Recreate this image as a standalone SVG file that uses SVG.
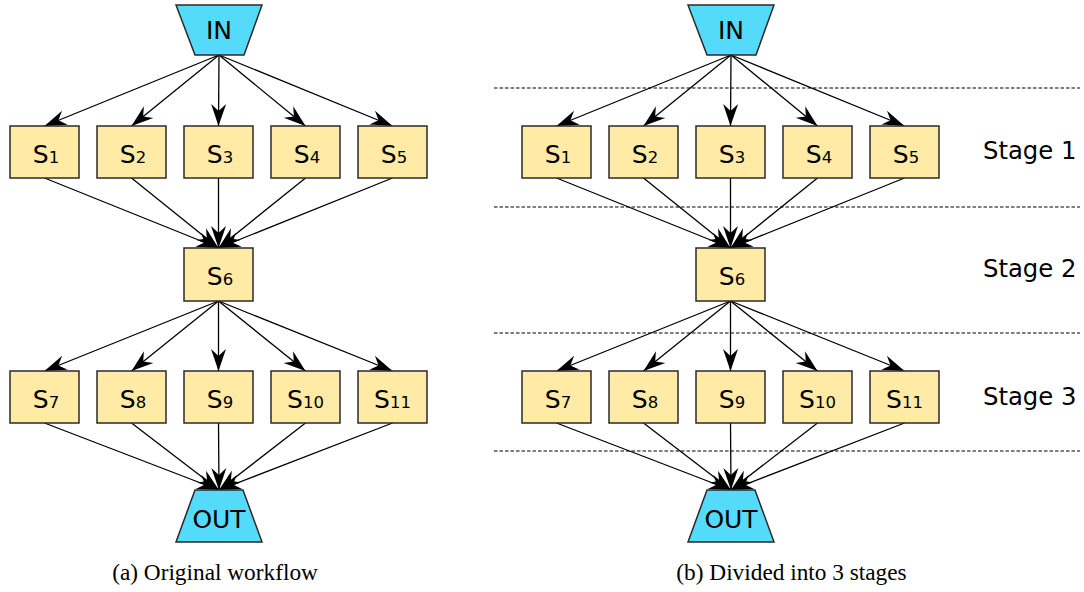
<svg xmlns="http://www.w3.org/2000/svg" width="1084" height="592" viewBox="0 0 1084 592">
<style>
.box{fill:#ffeaa6;stroke:#2a2a2a;stroke-width:1.5}
.io{fill:#55dbfa;stroke:#2a2a2a;stroke-width:1.5}
.lbl{font-family:"DejaVu Sans",sans-serif;font-size:25px;fill:#000;text-anchor:middle}
.sub{font-size:16.5px}
.edge{stroke:#000;stroke-width:1.3;fill:none;marker-end:url(#stealth)}
.dash{stroke:#000;stroke-width:1.2;stroke-dasharray:3.5 2}
.stage{font-family:"DejaVu Sans",sans-serif;font-size:24.3px;fill:#000}
.cap{font-family:"Liberation Serif",serif;font-size:23.3px;fill:#000;text-anchor:middle}
</style>
<defs>
<marker id="stealth" markerUnits="userSpaceOnUse" markerWidth="24" markerHeight="18" refX="22" refY="9" orient="auto" viewBox="0 0 24 18">
<path d="M0,1.5 L22,9 L0,16.5 L7,9 Z" fill="#000"/>
</marker>
</defs>
<rect width="1084" height="592" fill="#fff"/>
<g id="connectors">
<line class="edge" x1="219" y1="55" x2="44.5" y2="126"/>
<line class="edge" x1="219" y1="55" x2="131.5" y2="126"/>
<line class="edge" x1="219" y1="55" x2="218.5" y2="126"/>
<line class="edge" x1="219" y1="55" x2="305.5" y2="126"/>
<line class="edge" x1="219" y1="55" x2="392.5" y2="126"/>
<line class="edge" x1="44.5" y1="178" x2="218.5" y2="248"/>
<line class="edge" x1="131.5" y1="178" x2="218.5" y2="248"/>
<line class="edge" x1="218.5" y1="178" x2="218.5" y2="248"/>
<line class="edge" x1="305.5" y1="178" x2="218.5" y2="248"/>
<line class="edge" x1="392.5" y1="178" x2="218.5" y2="248"/>
<line class="edge" x1="218.5" y1="301" x2="44.5" y2="371"/>
<line class="edge" x1="218.5" y1="301" x2="131.5" y2="371"/>
<line class="edge" x1="218.5" y1="301" x2="218.5" y2="371"/>
<line class="edge" x1="218.5" y1="301" x2="305.5" y2="371"/>
<line class="edge" x1="218.5" y1="301" x2="392.5" y2="371"/>
<line class="edge" x1="44.5" y1="423" x2="219" y2="490"/>
<line class="edge" x1="131.5" y1="423" x2="219" y2="490"/>
<line class="edge" x1="218.5" y1="423" x2="219" y2="490"/>
<line class="edge" x1="305.5" y1="423" x2="219" y2="490"/>
<line class="edge" x1="392.5" y1="423" x2="219" y2="490"/>

<line class="edge" x1="731" y1="55" x2="556.5" y2="126"/>
<line class="edge" x1="731" y1="55" x2="643.5" y2="126"/>
<line class="edge" x1="731" y1="55" x2="730.5" y2="126"/>
<line class="edge" x1="731" y1="55" x2="817.5" y2="126"/>
<line class="edge" x1="731" y1="55" x2="904.5" y2="126"/>
<line class="edge" x1="556.5" y1="178" x2="730.5" y2="248"/>
<line class="edge" x1="643.5" y1="178" x2="730.5" y2="248"/>
<line class="edge" x1="730.5" y1="178" x2="730.5" y2="248"/>
<line class="edge" x1="817.5" y1="178" x2="730.5" y2="248"/>
<line class="edge" x1="904.5" y1="178" x2="730.5" y2="248"/>
<line class="edge" x1="730.5" y1="301" x2="556.5" y2="371"/>
<line class="edge" x1="730.5" y1="301" x2="643.5" y2="371"/>
<line class="edge" x1="730.5" y1="301" x2="730.5" y2="371"/>
<line class="edge" x1="730.5" y1="301" x2="817.5" y2="371"/>
<line class="edge" x1="730.5" y1="301" x2="904.5" y2="371"/>
<line class="edge" x1="556.5" y1="423" x2="731" y2="490"/>
<line class="edge" x1="643.5" y1="423" x2="731" y2="490"/>
<line class="edge" x1="730.5" y1="423" x2="731" y2="490"/>
<line class="edge" x1="817.5" y1="423" x2="731" y2="490"/>
<line class="edge" x1="904.5" y1="423" x2="731" y2="490"/>
</g>
<g id="stage-dividers">
<line class="dash" x1="494" y1="88" x2="1080" y2="88"/>
<line class="dash" x1="494" y1="207" x2="1080" y2="207"/>
<line class="dash" x1="494" y1="333" x2="1080" y2="333"/>
<line class="dash" x1="494" y1="451" x2="1080" y2="451"/>
</g>
<g id="stage-labels">
<text class="stage" x="983" y="159">Stage 1</text>
<text class="stage" x="983" y="276.5">Stage 2</text>
<text class="stage" x="983" y="404.5">Stage 3</text>
</g>

<g id="a-IN"><polygon class="io" points="176,5 262,5 244,55 195,55"/><text class="lbl" x="219" y="39">IN</text></g>
<g id="a-S1"><rect class="box" x="10" y="126" width="69" height="52"/><text class="lbl" x="46" y="162.5">S<tspan class="sub">1</tspan></text></g>
<g id="a-S2"><rect class="box" x="97" y="126" width="69" height="52"/><text class="lbl" x="133" y="162.5">S<tspan class="sub">2</tspan></text></g>
<g id="a-S3"><rect class="box" x="184" y="126" width="69" height="52"/><text class="lbl" x="220" y="162.5">S<tspan class="sub">3</tspan></text></g>
<g id="a-S4"><rect class="box" x="271" y="126" width="69" height="52"/><text class="lbl" x="307" y="162.5">S<tspan class="sub">4</tspan></text></g>
<g id="a-S5"><rect class="box" x="358" y="126" width="69" height="52"/><text class="lbl" x="394" y="162.5">S<tspan class="sub">5</tspan></text></g>
<g id="a-S6"><rect class="box" x="184" y="248" width="69" height="53"/><text class="lbl" x="220" y="284.5">S<tspan class="sub">6</tspan></text></g>
<g id="a-S7"><rect class="box" x="10" y="371" width="69" height="52"/><text class="lbl" x="46" y="407.5">S<tspan class="sub">7</tspan></text></g>
<g id="a-S8"><rect class="box" x="97" y="371" width="69" height="52"/><text class="lbl" x="133" y="407.5">S<tspan class="sub">8</tspan></text></g>
<g id="a-S9"><rect class="box" x="184" y="371" width="69" height="52"/><text class="lbl" x="220" y="407.5">S<tspan class="sub">9</tspan></text></g>
<g id="a-S10"><rect class="box" x="271" y="371" width="69" height="52"/><text class="lbl" x="305.5" y="407.5">S<tspan class="sub">10</tspan></text></g>
<g id="a-S11"><rect class="box" x="358" y="371" width="69" height="52"/><text class="lbl" x="392.5" y="407.5">S<tspan class="sub">11</tspan></text></g>
<g id="a-OUT"><polygon class="io" points="195,490 243,490 262,542 176,542"/><text class="lbl" x="219" y="528">OUT</text></g>

<g id="b-IN"><polygon class="io" points="688,5 774,5 756,55 707,55"/><text class="lbl" x="731" y="39">IN</text></g>
<g id="b-S1"><rect class="box" x="522" y="126" width="69" height="52"/><text class="lbl" x="558" y="162.5">S<tspan class="sub">1</tspan></text></g>
<g id="b-S2"><rect class="box" x="609" y="126" width="69" height="52"/><text class="lbl" x="645" y="162.5">S<tspan class="sub">2</tspan></text></g>
<g id="b-S3"><rect class="box" x="696" y="126" width="69" height="52"/><text class="lbl" x="732" y="162.5">S<tspan class="sub">3</tspan></text></g>
<g id="b-S4"><rect class="box" x="783" y="126" width="69" height="52"/><text class="lbl" x="819" y="162.5">S<tspan class="sub">4</tspan></text></g>
<g id="b-S5"><rect class="box" x="870" y="126" width="69" height="52"/><text class="lbl" x="906" y="162.5">S<tspan class="sub">5</tspan></text></g>
<g id="b-S6"><rect class="box" x="696" y="248" width="69" height="53"/><text class="lbl" x="732" y="284.5">S<tspan class="sub">6</tspan></text></g>
<g id="b-S7"><rect class="box" x="522" y="371" width="69" height="52"/><text class="lbl" x="558" y="407.5">S<tspan class="sub">7</tspan></text></g>
<g id="b-S8"><rect class="box" x="609" y="371" width="69" height="52"/><text class="lbl" x="645" y="407.5">S<tspan class="sub">8</tspan></text></g>
<g id="b-S9"><rect class="box" x="696" y="371" width="69" height="52"/><text class="lbl" x="732" y="407.5">S<tspan class="sub">9</tspan></text></g>
<g id="b-S10"><rect class="box" x="783" y="371" width="69" height="52"/><text class="lbl" x="817.5" y="407.5">S<tspan class="sub">10</tspan></text></g>
<g id="b-S11"><rect class="box" x="870" y="371" width="69" height="52"/><text class="lbl" x="904.5" y="407.5">S<tspan class="sub">11</tspan></text></g>
<g id="b-OUT"><polygon class="io" points="707,490 755,490 774,542 688,542"/><text class="lbl" x="731" y="528">OUT</text></g>

<g id="captions">
<text class="cap" x="215" y="580">(a) Original workflow</text>
<text class="cap" x="791.5" y="580">(b) Divided into 3 stages</text>
</g>
</svg>
